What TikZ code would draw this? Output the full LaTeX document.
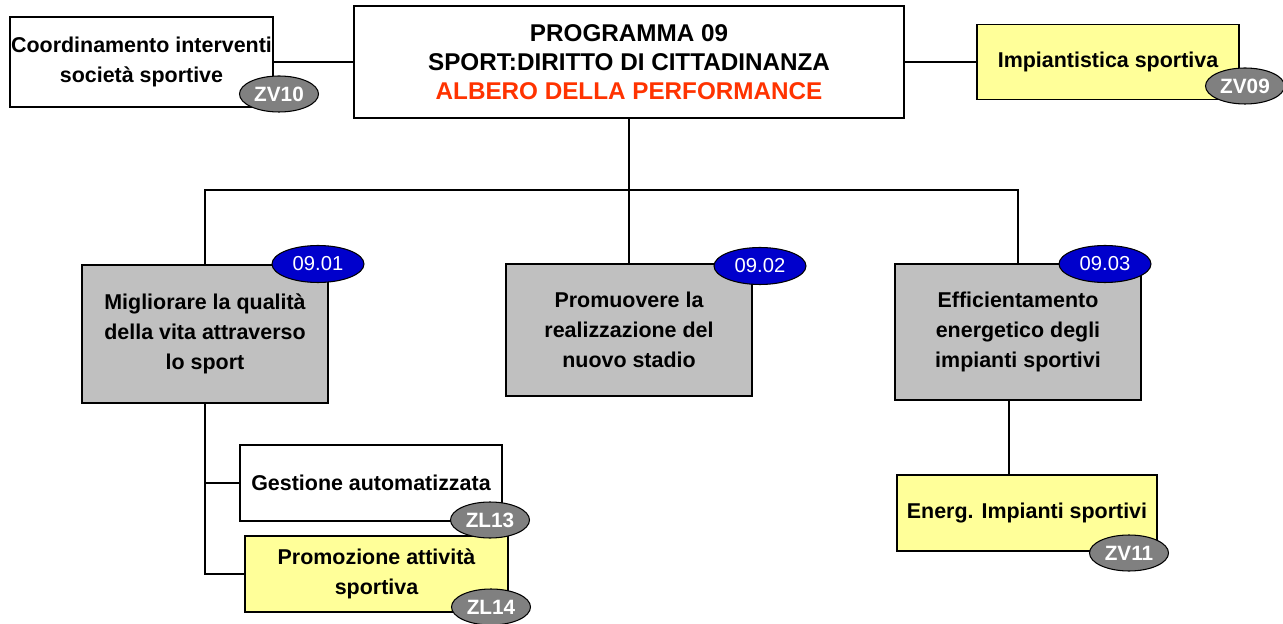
\documentclass[tikz,border=0pt]{standalone}
\usepackage{fontspec}
\setmainfont{Liberation Sans}
\usepackage{tikz}
\usetikzlibrary{shapes.geometric, positioning}
\definecolor{goalgray}{RGB}{192,192,192}
\definecolor{goalyellow}{RGB}{255,255,153}
\definecolor{codeblue}{RGB}{0,0,204}
\definecolor{taggray}{RGB}{128,128,128}
\definecolor{titlered}{RGB}{255,51,0}

\begin{document}
\begin{tikzpicture}[x=0.02cm, y=-0.02cm,
  goal/.style={rectangle, draw=black, fill=#1, line width=1pt, inner sep=0pt,
               align=center, font=\fontsize{12.2}{17}\selectfont\bfseries},
  title/.style={rectangle, draw=black, fill=white, line width=1pt, inner sep=0pt,
               align=center, font=\fontsize{13.8}{16.4}\selectfont\bfseries},
  link/.style={line width=1pt},
  code/.style={ellipse, draw=black, fill=codeblue, text=white, line width=0.6pt, inner sep=0pt,
               minimum width=1.84cm, minimum height=0.74cm, font=\fontsize{11.5}{13}\selectfont},
  tag/.style={ellipse, draw=black, fill=taggray, text=white, line width=0.6pt, inner sep=0pt,
              minimum width=1.58cm, minimum height=0.72cm, font=\fontsize{11.8}{13}\selectfont\bfseries},
]
  \useasboundingbox (0,0) rectangle (1283,624);

  % Top row
  \node[title, minimum width=11cm, minimum height=2.24cm] (prog) at (629,62)
    {PROGRAMMA 09\\SPORT:DIRITTO DI CITTADINANZA\\\textcolor{titlered}{ALBERO DELLA PERFORMANCE}};
  \node[goal=white, minimum width=5.26cm, minimum height=1.8cm] (coord) at (141.5,62)
    {Coordinamento interventi\\società sportive};
  \node[goal=goalyellow, minimum width=5.24cm, minimum height=1.5cm] (impt) at (1108,62)
    {Impiantistica sportiva};

  % Objectives
  \node[goal=goalgray, minimum width=4.92cm, minimum height=2.76cm] (obj1) at (205,334)
    {Migliorare la qualità\\della vita attraverso\\lo sport};
  \node[goal=goalgray, minimum width=4.92cm, minimum height=2.64cm] (obj2) at (629,330)
    {Promuovere la\\realizzazione del\\nuovo stadio};
  \node[goal=goalgray, minimum width=4.92cm, minimum height=2.72cm] (obj3) at (1018,332)
    {Efficientamento\\energetico degli\\impianti sportivi};

  % Actions
  \node[goal=white, minimum width=5.24cm, minimum height=1.52cm] (gest) at (371,483)
    {Gestione automatizzata};
  \node[goal=goalyellow, minimum width=5.26cm, minimum height=1.52cm] (prom) at (376.5,574)
    {Promozione attività\\sportiva};
  \node[goal=goalyellow, minimum width=5.2cm, minimum height=1.52cm] (energ) at (1027,513)
    {Energ. Impianti sportivi};

  % Connectors
  \coordinate (fork) at (629,190);
  \coordinate (drop) at (1009,400);
  \draw[link] (coord) -- (prog);
  \draw[link] (prog.east) -- (prog.east -| impt.west);
  \draw[link] (prog.south) -- (fork);
  \draw[link] (obj1.north) |- (fork) -| (obj3.north);
  \draw[link] (obj2.north) -- (obj2.north |- fork);
  \draw[link] (obj1.south) |- (gest.west);
  \draw[link] (obj1.south) |- (prom.west);
  \draw[link] (drop) -- (drop |- energ.north);

  % Codes
  \node[code] (c01) at (318,264) {09.01};
  \node[code] (c02) at (760,266) {09.02};
  \node[code] (c03) at (1105,264) {09.03};
  \node[tag] (zv10) at (279,94) {ZV10};
  \node[tag] (zv09) at (1245,86) {ZV09};
  \node[tag] (zl13) at (490,520) {ZL13};
  \node[tag] (zl14) at (491,607) {ZL14};
  \node[tag] (zv11) at (1129,553) {ZV11};
\end{tikzpicture}
\end{document}
